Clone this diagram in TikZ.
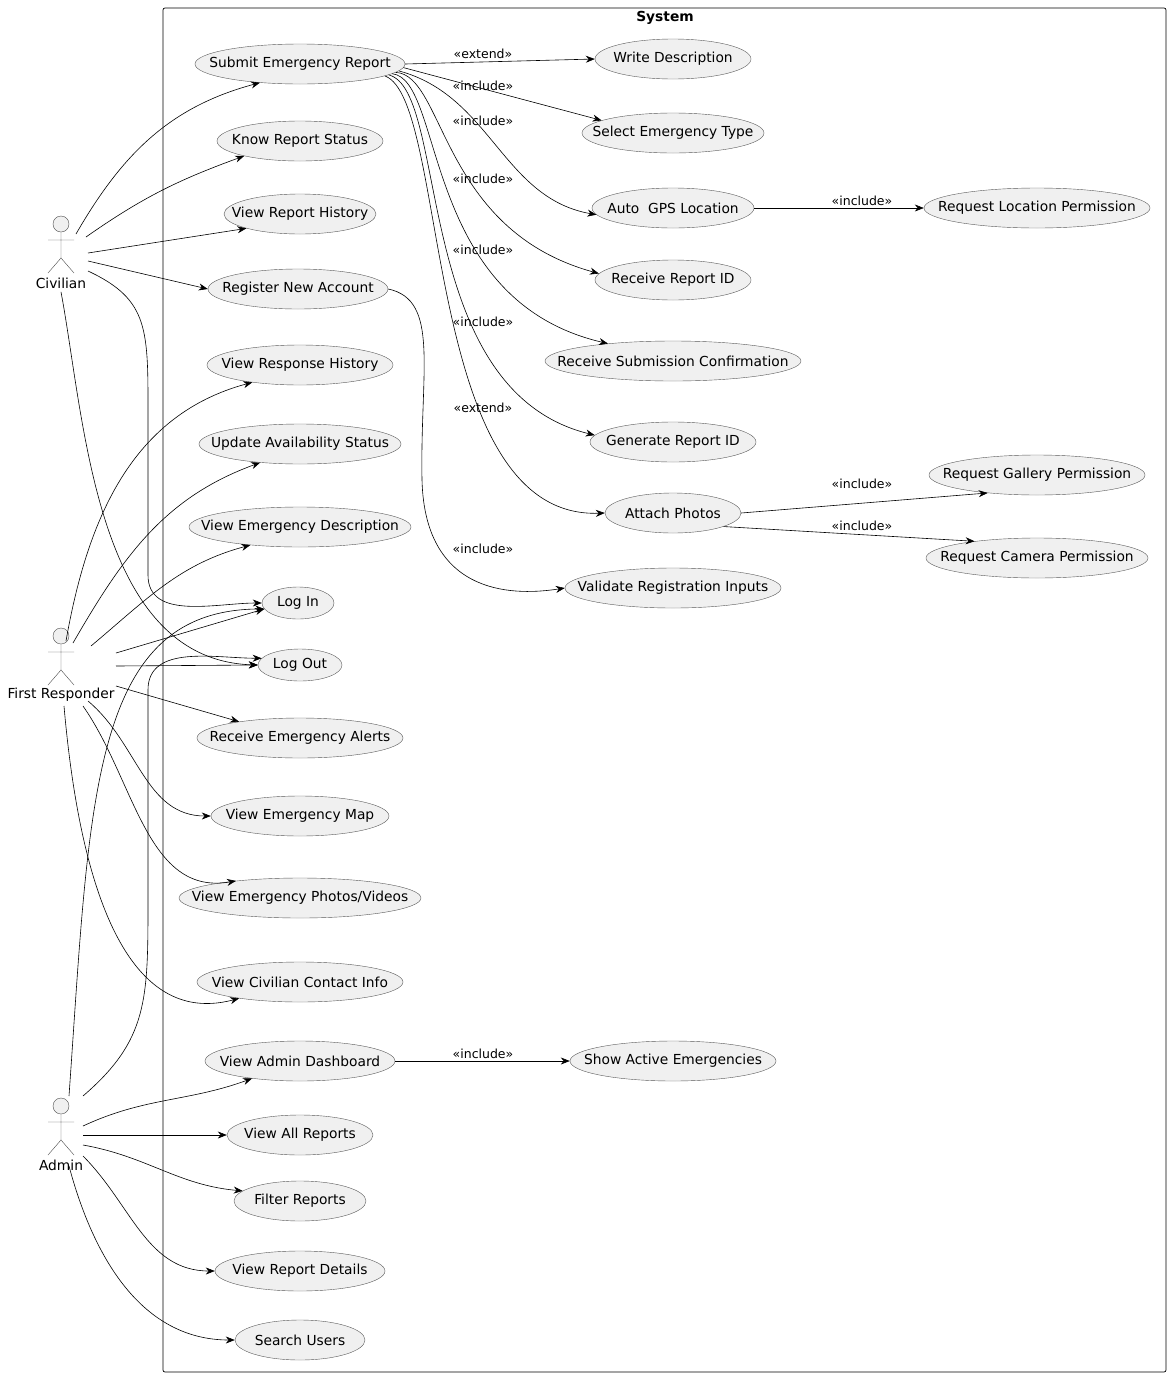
\documentclass[tikz,border=0pt]{standalone}
\usepackage{fontspec}
\setmainfont{DejaVu Sans}
\usetikzlibrary{shapes.geometric,arrows.meta,calc}
\tikzset{
  uc/.style={ellipse,draw=black!65,fill=black!6,minimum height=40pt,inner sep=0pt,
    execute at begin node={\setbox0=\hbox\bgroup},
    execute at end node={\egroup\hbox to 0pt{\hss\box0\hss}}},
  rel/.style={draw,line width=0.6pt,-{Stealth[length=9pt,width=7pt]}},
  lbl/.style={font=\fontsize{12.5}{14}\selectfont},
}
% stick figure: name, x, y (head centre), label
\newcommand{\stickman}[4]{%
  \draw[fill=black!6,draw=black!70] (#2,#3) circle (8pt);
  \draw[draw=black!70] (#2,#3+8) -- (#2,#3+34) (#2-13,#3+16) -- (#2+13,#3+16)
        (#2-13,#3+49) -- (#2,#3+34) -- (#2+13,#3+49);
  \coordinate (#1) at (#2,#3+25);
  \node (#1l) at (#2,#3+59) {#4};
}
\begin{document}
\begin{tikzpicture}[x=1pt,y=-1pt,font=\fontsize{13.8}{16}\selectfont]
\useasboundingbox (0,0) rectangle (1170,1377);
\draw[line width=0.7pt,rounded corners=2pt] (163,8) rectangle (1166,1372);
\node[font=\bfseries\fontsize{13.8}{16}\selectfont] (sys) at (665,18) {System};

\stickman{civ}{61}{224}{Civilian}
\stickman{resp}{61}{636}{First Responder}
\stickman{adm}{61}{1106}{Admin}

% first column
\node[uc,minimum width=210] (sub) at (300,64) {Submit Emergency Report};
\node[uc,minimum width=166] (know) at (300,141) {Know Report Status};
\node[uc,minimum width=152] (hist) at (300,214) {View Report History};
\node[uc,minimum width=180] (reg) at (298,289) {Register New Account};
\node[uc,minimum width=186] (resph) at (300,365) {View Response History};
\node[uc,minimum width=202] (avail) at (300,444) {Update Availability Status};
\node[uc,minimum width=222] (desc) at (300,527) {View Emergency Description};
\node[uc,minimum width=72,minimum height=32] (login) at (298,603) {Log In};
\node[uc,minimum width=84,minimum height=32] (logout) at (300,665) {Log Out};
\node[uc,minimum width=206] (alerts) at (300,738) {Receive Emergency Alerts};
\node[uc,minimum width=178] (map) at (300,816) {View Emergency Map};
\node[uc,minimum width=242] (photos) at (300,898) {View Emergency Photos/Videos};
\node[uc,minimum width=206] (contact) at (300,982) {View Civilian Contact Info};
\node[uc,minimum width=190] (dash) at (300,1061) {View Admin Dashboard};
\node[uc,minimum width=146] (all) at (300,1135) {View All Reports};
\node[uc,minimum width=132] (filt) at (300,1201) {Filter Reports};
\node[uc,minimum width=170] (det) at (300,1271) {View Report Details};
\node[uc,minimum width=130] (search) at (300,1340) {Search Users};

% second column
\node[uc,minimum width=156] (write) at (673,59) {Write Description};
\node[uc,minimum width=182] (type) at (673,133) {Select Emergency Type};
\node[uc,minimum width=162] (gps) at (673,208) {Auto \ GPS Location};
\node[uc,minimum width=156] (rid) at (673,280) {Receive Report ID};
\node[uc,minimum width=256] (conf) at (673,361) {Receive Submission Confirmation};
\node[uc,minimum width=166] (gen) at (673,442) {Generate Report ID};
\node[uc,minimum width=136] (att) at (673,513) {Attach Photos};
\node[uc,minimum width=216] (valid) at (673,588) {Validate Registration Inputs};
\node[uc,minimum width=206] (active) at (673,1061) {Show Active Emergencies};

% third column
\node[uc,minimum width=226] (loc) at (1037,208) {Request Location Permission};
\node[uc,minimum width=216] (gal) at (1037,475) {Request Gallery Permission};
\node[uc,minimum width=222] (cam) at (1037,558) {Request Camera Permission};

% civilian
\path[rel] ($(civ)+(15,-15)$) to[out=60,in=195] (sub.205);
\path[rel] ($(civ)+(25,-12)$) to[out=35,in=200] (know.195);
\path[rel] ($(civ)+(27,4)$) -- (hist.195);
\path[rel] ($(civ)+(27,12)$) -- (reg.west);
\path[rel] ($(civ)+(27,22)$) .. controls (150,300) and (148,330) .. (148,420)
  -- (148,575) to[out=270,in=180] (login.west);
\path[rel] (civl.south) .. controls (85,420) and (95,660) .. (logout.west);

% first responder
\path[rel] ($(resp)+(5,-20)$) to[out=80,in=195] (resph.200);
\path[rel] ($(resp)+(12,-18)$) to[out=60,in=200] (avail.205);
\path[rel] ($(resp)+(30,-15)$) to[out=40,in=195] (desc.200);
\path[rel] ($(resp)+(55,-8)$) -- (login.190);
\path[rel] ($(resp)+(55,5)$) -- (logout.west);
\path[rel] ($(resp)+(55,25)$) -- (alerts.165);
\path[rel] ($(resp)+(27,40)$) to[out=-40,in=180] (map.west);
\path[rel] ($(resp)+(22,45)$) to[out=-55,in=190] (photos.165);
\path[rel] ($(resp)+(3,45)$) to[out=-85,in=195] (contact.195);

% admin
\path[rel] ($(adm)+(8,-35)$) .. controls (90,800) and (90,610) .. (login.190);
\path[rel] ($(adm)+(22,-35)$) .. controls (148,1040) and (148,1000) .. (148,900)
  -- (148,690) to[out=90,in=180] (logout.170);
\path[rel] ($(adm)+(22,-5)$) to[out=25,in=200] (dash.200);
\path[rel] ($(adm)+(22,4)$) -- (all.west);
\path[rel] ($(adm)+(22,14)$) to[out=-10,in=175] (filt.170);
\path[rel] ($(adm)+(22,25)$) to[out=-45,in=180] (det.west);
\path[rel] ($(adm)+(8,35)$) to[out=-75,in=180] (search.west);

% submit report relations
\path[rel] (sub.east) -- (write.west);
\path[rel] (sub.358) -- (type.170);
\path[rel] (sub.356) to[out=-15,in=170] (gps.185);
\path[rel] (sub.355) .. controls (445,75) and (440,230) .. (rid.175);
\path[rel] (sub.354) .. controls (445,80) and (420,300) .. (conf.165);
\path[rel] (sub.353) .. controls (450,90) and (410,390) .. (gen.175);
\path[rel] (sub.352) .. controls (450,100) and (420,520) .. (att.west);
\path[rel] (reg.east) .. controls (440,300) and (420,370) .. (422,480)
  .. controls (425,600) and (520,595) .. (valid.west);
\path[rel] (gps.east) -- (loc.west);
\path[rel] (att.east) -- (gal.200);
\path[rel] (att.345) -- (cam.165);
\path[rel] (dash.east) -- (active.west);

\node[lbl] (l1) at (483,54) {«extend»};
\node[lbl] (l2) at (483,86) {«include»};
\node[lbl] (l3) at (483,121) {«include»};
\node[lbl] (l4) at (483,179) {«include»};
\node[lbl] (l5) at (483,250) {«include»};
\node[lbl] (l6) at (483,322) {«include»};
\node[lbl] (l7) at (483,408) {«extend»};
\node[lbl] (l8) at (483,549) {«include»};
\node[lbl] (l9) at (862,201) {«include»};
\node[lbl] (l10) at (862,484) {«include»};
\node[lbl] (l11) at (862,526) {«include»};
\node[lbl] (l12) at (483,1054) {«include»};
\end{tikzpicture}
\end{document}
